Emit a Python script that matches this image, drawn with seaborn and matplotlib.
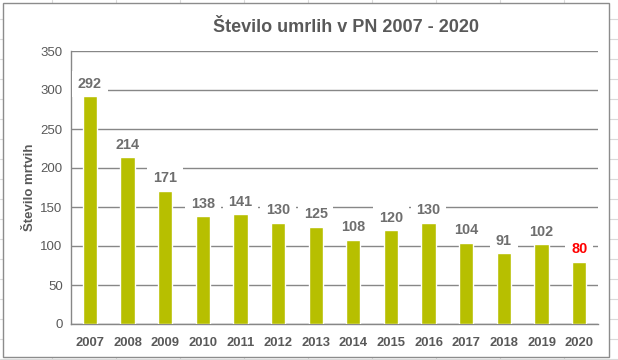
import matplotlib
matplotlib.use("Agg")
import matplotlib.pyplot as plt
import matplotlib.patches as mpatches
import seaborn as sns
import pandas as pd

# ── Data ──────────────────────────────────────────────────────────────────────
years  = ["2007", "2008", "2009", "2010", "2011", "2012", "2013",
          "2014", "2015", "2016", "2017", "2018", "2019", "2020"]
deaths = [292, 214, 171, 138, 141, 130, 125, 108, 120, 130, 104, 91, 102, 80]
y_ticks = [0, 50, 100, 150, 200, 250, 300, 350]

title   = "Število umrlih v PN 2007 - 2020"
y_label = "Število mrtvih"

df = pd.DataFrame({"leto": years, "umrli": deaths})

# ── Style ─────────────────────────────────────────────────────────────────────
sns.set_style("white")
plt.rcParams["font.family"] = ["Liberation Sans", "DejaVu Sans"]

BAR   = "#B7BF00"
GRID  = "#878787"
TEXT  = "#595959"
LABEL = "#6E6E6E"

W, H = 618, 360
fig = plt.figure(figsize=(W / 100, H / 100), dpi=100)

# spreadsheet cell lines behind the chart
for x in range(52, W, 64):
    fig.add_artist(plt.Line2D([x / W, x / W], [0, 1], color="#DADADA", lw=0.8, zorder=0))
for y in range(19, H, 20):
    fig.add_artist(plt.Line2D([0, 1], [1 - y / H, 1 - y / H], color="#DADADA", lw=0.8, zorder=0))

# chart area
fig.add_artist(mpatches.Rectangle((3 / W, 3 / H), 606 / W, 354 / H,
                                  facecolor="white", edgecolor="#8C8C8C",
                                  lw=1.0, zorder=1))

ax = fig.add_axes([71 / W, 1 - 324 / H, 527 / W, 273 / H], zorder=2)
ax.set_facecolor("white")

sns.barplot(data=df, x="leto", y="umrli", color=BAR, saturation=1,
            width=0.38, ax=ax, zorder=3)

ax.set_ylim(0, 350)
ax.set_xlim(-0.5, len(years) - 0.5)
ax.set_yticks(y_ticks)
ax.yaxis.grid(True, color=GRID, lw=1.0)
ax.set_axisbelow(True)

for side in ["top", "right"]:
    ax.spines[side].set_visible(False)
for side in ["left", "bottom"]:
    ax.spines[side].set_color(GRID)
    ax.spines[side].set_linewidth(1.0)

ax.tick_params(axis="y", length=3, color=GRID, labelsize=9.5, labelcolor=TEXT, pad=3)
ax.tick_params(axis="x", length=0, labelsize=9.4, labelcolor=TEXT, pad=9)
for lbl in ax.get_xticklabels():
    lbl.set_fontweight("bold")

ax.set_xlabel("")
ax.set_ylabel(y_label, fontsize=9.5, fontweight="bold", color=TEXT, labelpad=3)

# data labels
for i, v in enumerate(deaths):
    col = "red" if i == len(deaths) - 1 else LABEL
    ax.annotate(str(v), (i, v), xytext=(0, 9), textcoords="offset points",
                ha="center", va="center", fontsize=10.4, fontweight="bold", color=col,
                bbox=dict(boxstyle="square,pad=0.4", fc="white", ec="none"),
                zorder=5)

fig.text(346 / W, 1 - 28 / H, title, ha="center", va="center",
         fontsize=13, fontweight="bold", color=TEXT, zorder=3)

fig.savefig("out.png", dpi=100)
